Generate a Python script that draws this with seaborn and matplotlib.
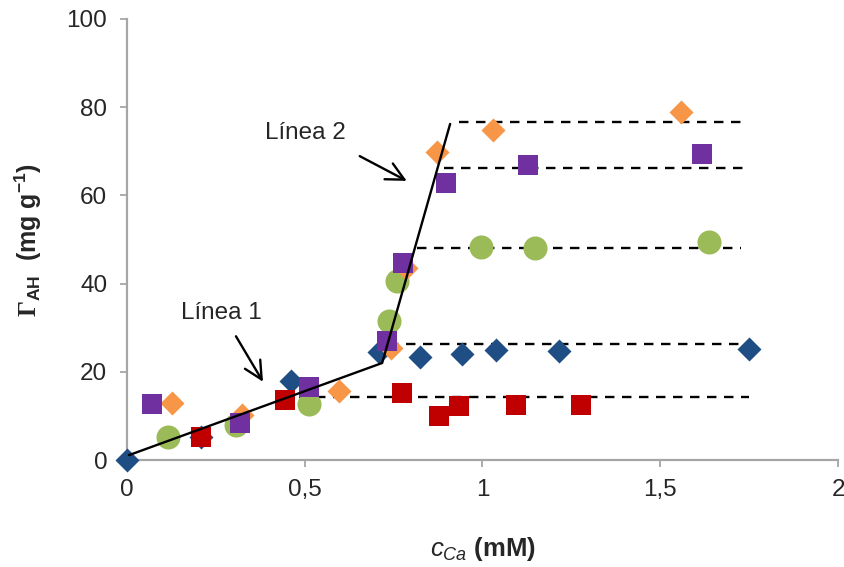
import numpy as np
import pandas as pd
import matplotlib
matplotlib.use('Agg')
import matplotlib.pyplot as plt
import seaborn as sns

# Data (c_Ca in mM, Gamma_AH in mg/g)
blue_x = [0.0, 0.21, 0.463, 0.71, 0.825, 0.943, 1.038, 1.215, 1.748]
blue_y = [0.0, 5.2, 17.9, 24.5, 23.4, 24.0, 24.9, 24.7, 25.2]

red_x = [0.21, 0.446, 0.774, 0.878, 0.934, 1.094, 1.276]
red_y = [5.2, 13.6, 15.2, 10.0, 12.2, 12.5, 12.5]

green_x = [0.115, 0.306, 0.511, 0.738, 0.76, 0.996, 1.147, 1.638]
green_y = [5.2, 7.9, 12.7, 31.5, 40.6, 48.3, 48.1, 49.4]

orange_x = [0.126, 0.323, 0.598, 0.743, 0.785, 0.872, 1.03, 1.557]
orange_y = [12.9, 10.2, 15.6, 25.4, 43.5, 69.8, 74.8, 78.9]

purple_x = [0.07, 0.317, 0.513, 0.732, 0.777, 0.898, 1.128, 1.616]
purple_y = [12.7, 8.4, 16.6, 27.0, 44.7, 62.8, 66.9, 69.4]

# fitted lines
linea_x = [0.006, 0.718, 0.909]
linea_y = [1.1, 22.0, 76.2]

# plateau (dashed) lines: level, start, end
plateau_y = [76.7, 66.1, 48.0, 26.2, 14.4]
plateau_x0 = [0.934, 0.892, 0.816, 0.738, 0.485]
plateau_x1 = [1.733, 1.742, 1.728, 1.745, 1.748]

sns.set_style('white')
plt.rcParams['font.family'] = ['Liberation Sans', 'DejaVu Sans']
plt.rcParams['mathtext.fontset'] = 'custom'
plt.rcParams['mathtext.rm'] = 'Liberation Sans'
plt.rcParams['mathtext.it'] = 'Liberation Sans:italic'
plt.rcParams['mathtext.bf'] = 'Liberation Sans:bold'
plt.rcParams['mathtext.sf'] = 'Liberation Serif:bold'

fig = plt.figure(figsize=(8.45, 5.67), dpi=100)
ax = fig.add_axes([0.150, 0.1887, 0.842, 0.7778])

# dashed plateau lines
for yv, x0, x1 in zip(plateau_y, plateau_x0, plateau_x1):
    sns.lineplot(x=[x0, x1], y=[yv, yv], color='black', linestyle=(0, (4, 3.2)),
                 linewidth=1.7, ax=ax)

series = [
    (blue_x, blue_y, '#1F4E85', 'D', 150),
    (red_x, red_y, '#C00000', 's', 215),
    (green_x, green_y, '#9BBB59', 'o', 300),
    (orange_x, orange_y, '#F79646', 'D', 150),
    (purple_x, purple_y, '#7030A0', 's', 215),
]
for xs, ys, col, mk, sz in series:
    sns.scatterplot(x=xs, y=ys, color=col, marker=mk, s=sz, linewidth=0,
                    ax=ax, clip_on=False, zorder=3)

sns.lineplot(x=linea_x, y=linea_y, color='black', linewidth=1.7, ax=ax,
             sort=False, zorder=4)

arrow = dict(arrowstyle='->', color='black', lw=1.7, mutation_scale=32)
ax.annotate('', xy=(0.387, 17.2), xytext=(0.303, 28.6), arrowprops=arrow)
ax.annotate('', xy=(0.794, 63.0), xytext=(0.648, 69.2), arrowprops=arrow)
ax.text(0.266, 33.3, 'Línea 1', fontsize=17.5, ha='center', va='center')
ax.text(0.502, 74.1, 'Línea 2', fontsize=17.5, ha='center', va='center')

ax.set_xlim(0, 2)
ax.set_ylim(0, 100)
ax.set_xticks([0, 0.5, 1, 1.5, 2])
ax.set_xticklabels(['0', '0,5', '1', '1,5', '2'])
ax.set_yticks([0, 20, 40, 60, 80, 100])
ax.tick_params(axis='both', labelsize=17.5, color='#A6A6A6', length=5,
               width=1.3, direction='out', bottom=True, left=True, pad=9)
for s in ['top', 'right']:
    ax.spines[s].set_visible(False)
for s in ['left', 'bottom']:
    ax.spines[s].set_color('#A6A6A6')
    ax.spines[s].set_linewidth(1.6)

ax.set_xlabel(r'$\mathit{c}_{\mathit{Ca}}$ (mM)', fontsize=18.5, fontweight='bold',
              labelpad=24)
ax.set_ylabel(r'$\mathsf{\Gamma}_{\mathbf{AH}}$  (mg g$^{\mathbf{-1}}$)', fontsize=18,
              fontweight='bold', labelpad=16)

fig.savefig('out.png', dpi=100)
